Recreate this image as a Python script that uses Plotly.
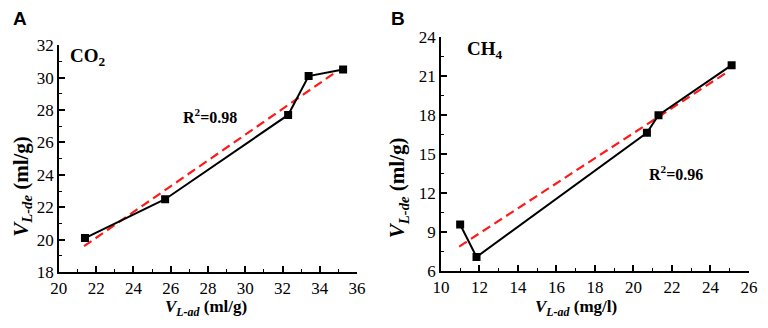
import plotly.graph_objects as go

# Panel A (CO2)
co2_x = [21.4, 25.7, 32.3, 33.4, 35.25]
co2_y = [20.1, 22.5, 27.7, 30.1, 30.5]
co2_fit_x = [21.35, 34.8]
co2_fit_y = [19.6, 30.3]

# Panel B (CH4)
ch4_x = [11.0, 11.85, 20.7, 21.3, 25.1]
ch4_y = [9.55, 7.05, 16.6, 17.95, 21.8]
ch4_fit_x = [10.95, 24.75]
ch4_fit_y = [7.85, 21.15]

SERIF = "Liberation Serif"
SANS = "Liberation Sans"

fig = go.Figure()

def add_panel(xs, ys, fx, fy, xa, ya):
    fig.add_trace(go.Scatter(x=fx, y=fy, mode="lines", xaxis=xa, yaxis=ya,
                             line=dict(color="#ff1a1a", width=2.2, dash="9px,5px"),
                             showlegend=False, hoverinfo="skip"))
    fig.add_trace(go.Scatter(x=xs, y=ys, mode="lines+markers", xaxis=xa, yaxis=ya,
                             line=dict(color="black", width=2),
                             marker=dict(symbol="square", size=8, color="black"),
                             showlegend=False))

add_panel(co2_x, co2_y, co2_fit_x, co2_fit_y, "x", "y")
add_panel(ch4_x, ch4_y, ch4_fit_x, ch4_fit_y, "x2", "y2")

def axis_style(rng, dtick, minor_dtick, domain, anchor):
    return dict(range=rng, dtick=dtick, tick0=rng[0], domain=domain, anchor=anchor,
                showline=True, linecolor="black", linewidth=1.6, mirror=False,
                ticks="inside", ticklen=6, tickwidth=1.6, tickcolor="black",
                minor=dict(ticks="inside", ticklen=3, tickwidth=1.4, tickcolor="black",
                           dtick=minor_dtick, tick0=rng[0], showgrid=False),
                showgrid=False, zeroline=False,
                tickfont=dict(family=SERIF, size=17, color="black"))

fig.update_layout(
    width=768, height=328,
    margin=dict(l=0, r=0, t=0, b=0),
    font=dict(family=SERIF, color="black"),
    paper_bgcolor="white", plot_bgcolor="white",
    xaxis=axis_style([20, 36], 2, 1, [0.0664, 0.4635], "y"),
    yaxis=axis_style([18, 32], 2, 1, [0.1485, 0.8826], "x"),
    xaxis2=axis_style([10, 26], 2, 1, [0.5751, 0.9853], "y2"),
    yaxis2=axis_style([6, 24], 3, 1.5, [0.1534, 0.9107], "x2"),
)

anns = [
    dict(text="<b>A</b>", x=2 / 768, y=1 - 10 / 328, xanchor="left", yanchor="middle",
         font=dict(family=SANS, size=19, color="black")),
    dict(text="<b>B</b>", x=389 / 768, y=1 - 10 / 328, xanchor="left", yanchor="middle",
         font=dict(family=SANS, size=19, color="black")),
    dict(text="<b>CO<sub>2</sub></b>", x=60 / 768, y=1 - 51 / 328, xanchor="left", yanchor="middle",
         font=dict(family=SERIF, size=19, color="black")),
    dict(text="<b>CH<sub>4</sub></b>", x=466 / 768, y=1 - 43 / 328, xanchor="left", yanchor="middle",
         font=dict(family=SERIF, size=19, color="black")),
    dict(text="<b>R<sup>2</sup>=0.98</b>", x=206 / 768, y=1 - 114 / 328, xanchor="center", yanchor="middle",
         font=dict(family=SERIF, size=16, color="black")),
    dict(text="<b>R<sup>2</sup>=0.96</b>", x=682 / 768, y=1 - 174 / 328, xanchor="center", yanchor="middle",
         font=dict(family=SERIF, size=16, color="black")),
    dict(text="<b><i>V</i><sub><i>L-ad</i></sub> (ml/g)</b>", x=201 / 768, y=1 - 317 / 328,
         xanchor="center", yanchor="middle", font=dict(family=SERIF, size=17, color="black")),
    dict(text="<b><i>V</i><sub><i>L-ad</i></sub> (mg/l)</b>", x=580 / 768, y=1 - 317 / 328,
         xanchor="center", yanchor="middle", font=dict(family=SERIF, size=17, color="black")),
    dict(text="<b><i>V</i><sub><i>L-de</i></sub> (ml/g)</b>", x=13 / 768, y=1 - 188 / 328, textangle=-90,
         xanchor="center", yanchor="middle", font=dict(family=SERIF, size=21, color="black")),
    dict(text="<b><i>V</i><sub><i>L-de</i></sub> (ml/g)</b>", x=398 / 768, y=1 - 190 / 328, textangle=-90,
         xanchor="center", yanchor="middle", font=dict(family=SERIF, size=21, color="black")),
]
for a in anns:
    a.update(xref="paper", yref="paper", showarrow=False)
fig.update_layout(annotations=anns)

fig.write_html("out.html", config={"displayModeBar": False},
               post_script="document.body.style.margin='0';")
